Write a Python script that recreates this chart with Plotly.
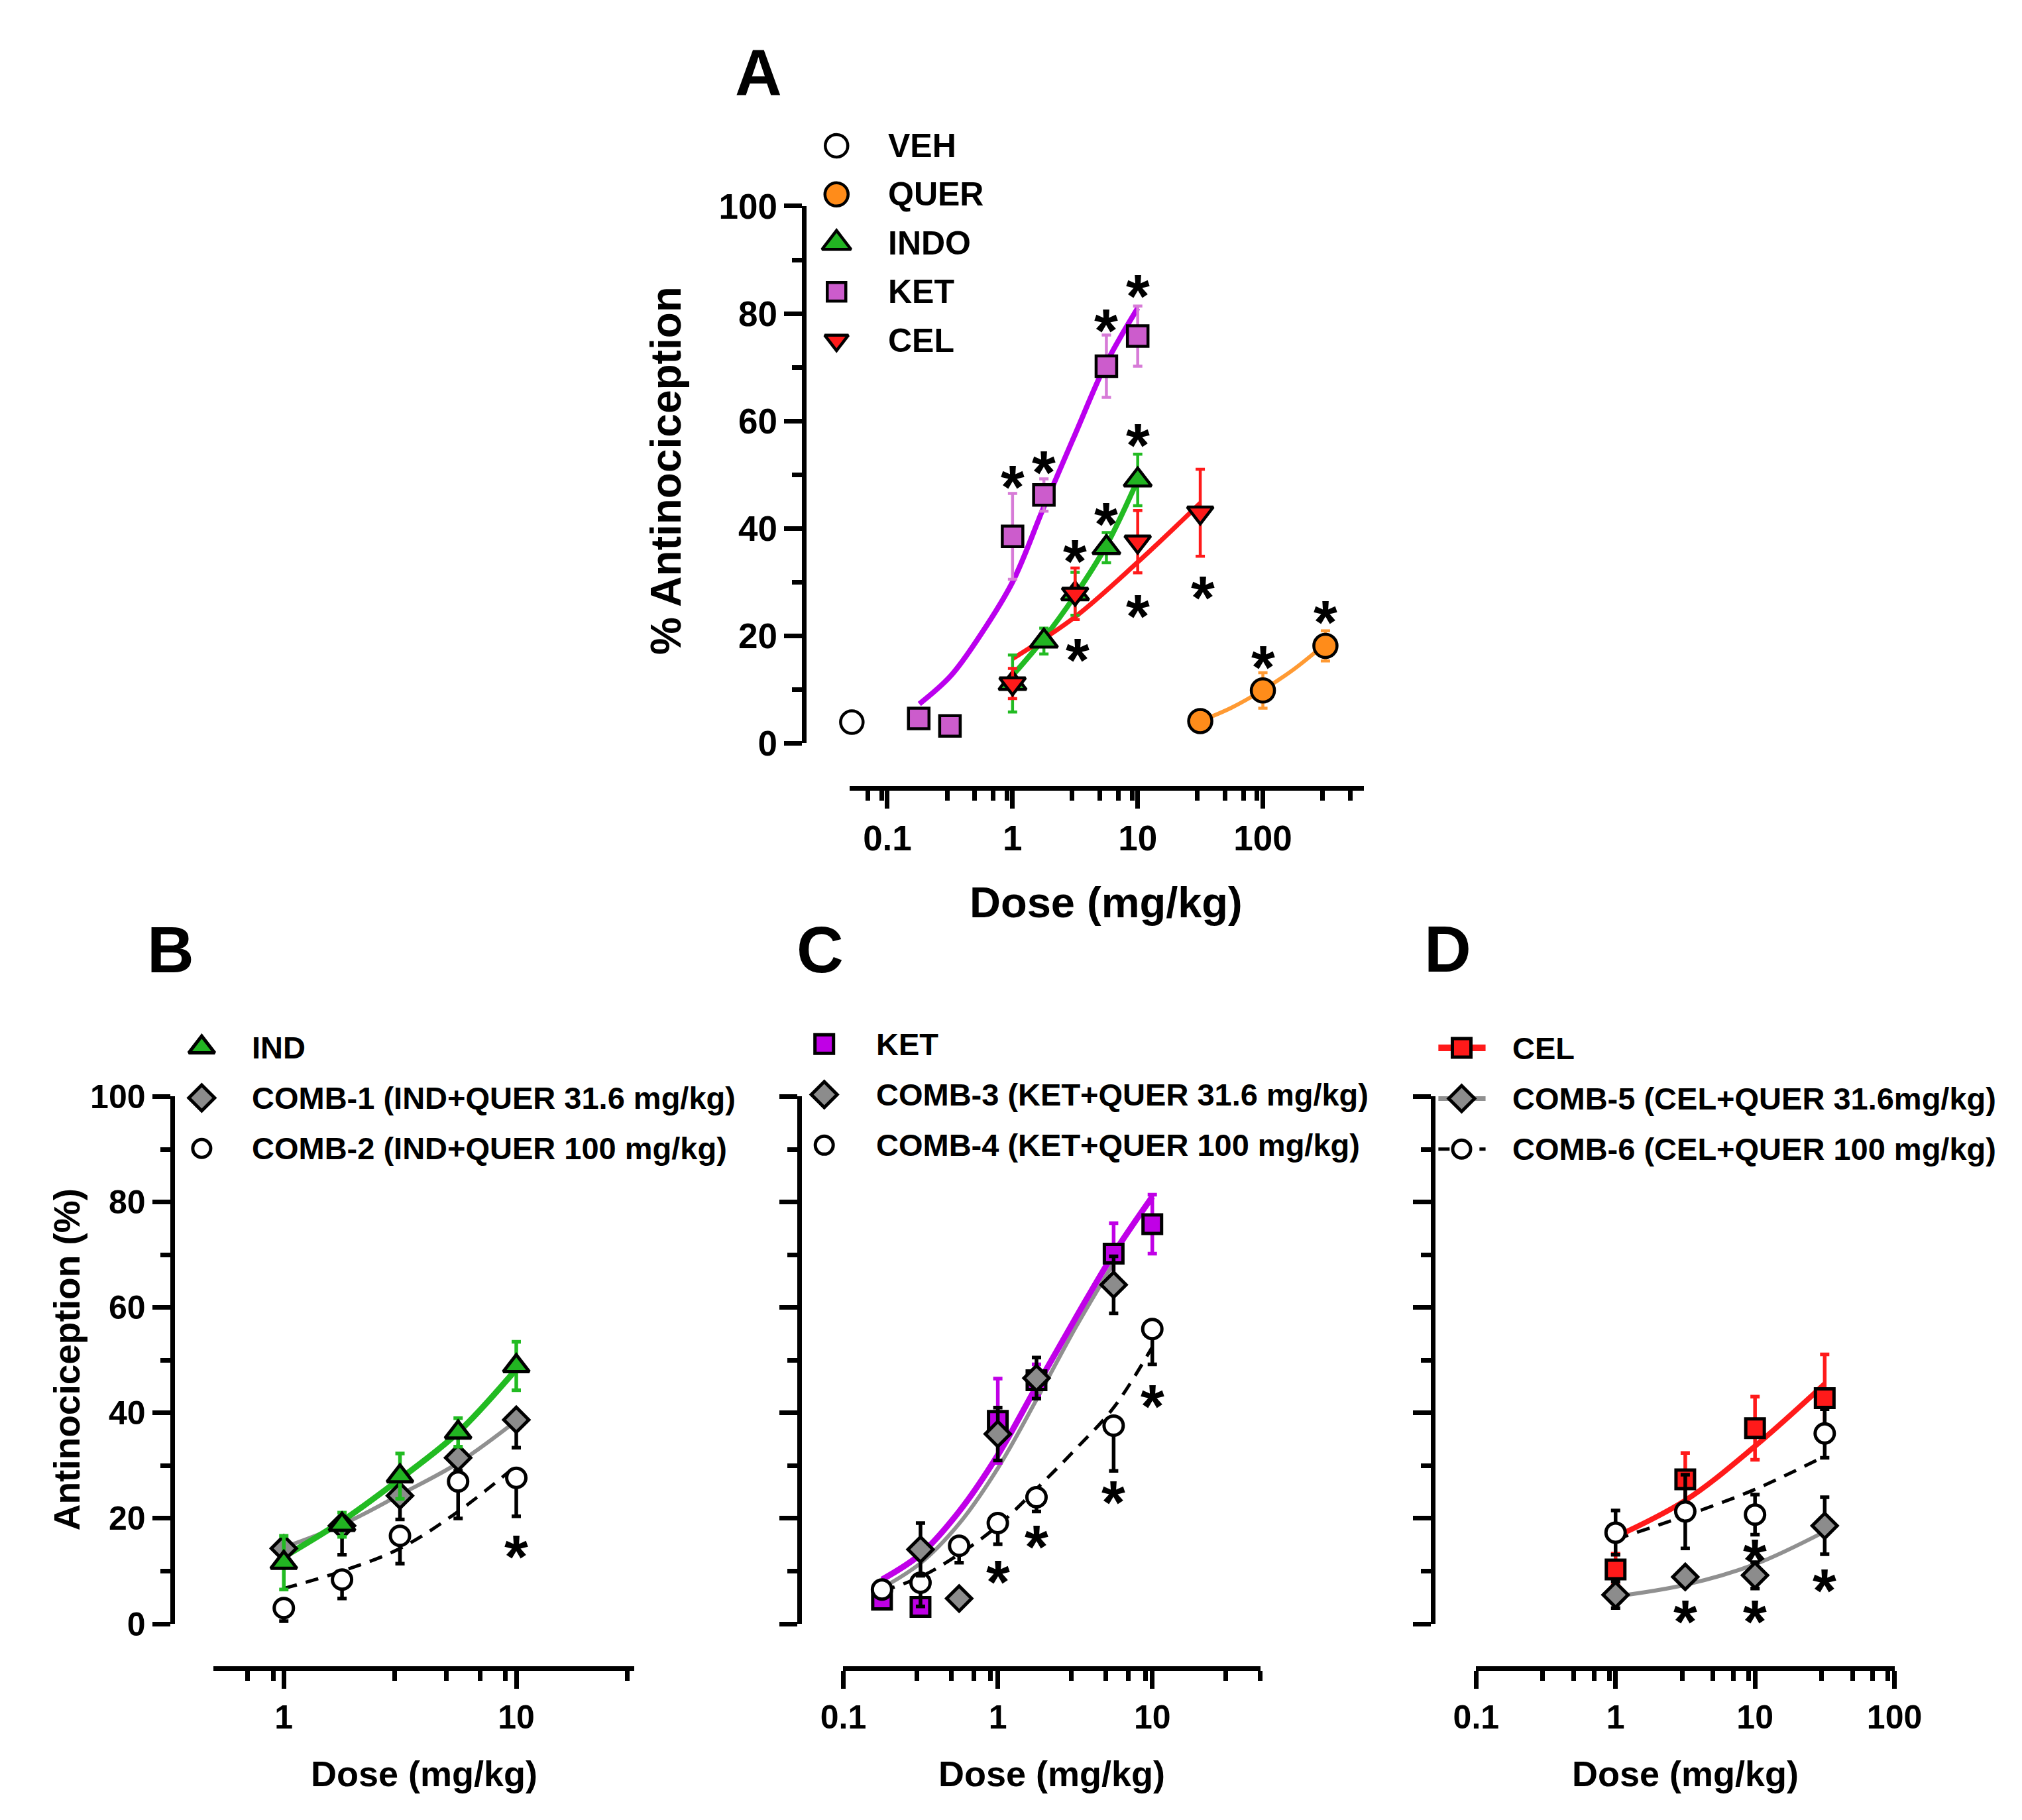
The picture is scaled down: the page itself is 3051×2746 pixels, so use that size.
import numpy as np
import plotly.graph_objects as go

W, H = 3051, 2746
FONT = "Liberation Sans, Arial, sans-serif"

# ---------------- panel A : single drugs ----------------
veh_x = [0.052]
veh_y = [3.9]
quer_x = [31.6, 100, 316]
quer_y = [4.1, 9.8, 18.1]
quer_err = [0.8, 3.3, 2.8]
indo_x = [1, 1.78, 3.16, 5.62, 10]
indo_y = [11.1, 19.0, 27.8, 36.4, 49.0]
indo_err = [5.3, 2.4, 4.0, 2.8, 4.8]
ket_x = [0.178, 0.316, 1, 1.78, 5.62, 10]
ket_y = [4.6, 3.2, 38.5, 46.2, 70.2, 75.8]
ket_err = [0.8, 0.6, 8.0, 3.0, 5.8, 5.6]
cel_x = [1, 3.16, 10, 31.6]
cel_y = [11.1, 27.8, 37.5, 42.9]
cel_err = [2.8, 4.8, 5.8, 8.1]

# fitted curves
ket_fit_x = [0.18, 0.32, 0.56, 1, 1.78, 3.16, 5.62, 10]
ket_fit_y = [7.3, 12.5, 20.3, 30, 44, 57.5, 70.8, 81]
indo_fit_x = [1, 1.78, 3.16, 5.62, 10]
indo_fit_y = [12.6, 19.5, 27.5, 36.8, 49]
cel_fit_x = [1, 3.16, 10, 31.6]
cel_fit_y = [15.7, 23.5, 33.7, 44.7]
quer_fit_x = [31.6, 56.2, 100, 178, 316]
quer_fit_y = [4.1, 6.6, 9.9, 13.8, 18.5]

ast_a_x = [1, 1.78, 5.62, 10, 3.16, 5.62, 10, 3.3, 10, 33, 100, 316]
ast_a_y = [50.3, 53.0, 79.4, 85.8, 36.4, 43.4, 58.0, 18.1, 26.2, 29.6, 16.7, 25.1]

# ---------------- panel B : indomethacin ----------------
ind_x = [1, 1.78, 3.16, 5.62, 10]
ind_y = [11.6, 18.8, 28.0, 36.3, 48.9]
ind_err = [5.1, 2.3, 4.3, 2.7, 4.6]
comb1_y = [14.3, 18.6, 24.3, 31.5, 38.7]
comb1_err = [1.5, 5.5, 4.5, 2.5, 5.3]
comb2_y = [3.0, 8.4, 16.7, 27.0, 27.7]
comb2_err = [2.5, 3.6, 5.3, 7.0, 7.3]
ind_fit_y = [12.7, 19.5, 27.5, 36.3, 48.3]
comb1_fit_y = [14.5, 18.8, 24.5, 30.5, 38.5]
comb2_fit_y = [6.7, 10.0, 14.3, 21.3, 30.0]
ast_b_x = [10]
ast_b_y = [15.4]

# ---------------- panel C : ketorolac ----------------
comb3_x = [0.316, 0.562, 1, 1.78, 5.62]
comb3_y = [14.1, 4.8, 36.0, 46.6, 64.3]
comb3_err = [5.0, 0.8, 5.0, 3.9, 5.4]
comb4_x = [0.178, 0.316, 0.562, 1, 1.78, 5.62, 10]
comb4_y = [6.5, 7.8, 14.8, 19.1, 24.0, 37.6, 55.9]
comb4_err = [0.8, 4.5, 3.2, 4.0, 2.7, 8.6, 6.7]
fit_c_x = [0.178, 0.316, 0.562, 1, 1.78, 3.16, 5.62, 10]
ketc_fit_y = [8.4, 13.2, 21.3, 32, 45, 57.8, 70.2, 81]
comb3_fit_y = [6.8, 11.5, 19, 29.5, 42.5, 56, 68.4]
comb4_fit_y = [6.2, 8.9, 13.2, 18.6, 25.6, 33, 41, 52.5]
ast_c_x = [1, 1.78, 5.62, 10]
ast_c_y = [10.5, 17.2, 25.6, 43.9]

# ---------------- panel D : celecoxib ----------------
celd_y = [10.3, 27.4, 37.1, 42.8]
celd_err = [3.0, 5.0, 6.0, 8.3]
comb5_y = [5.5, 8.9, 9.2, 18.6]
comb5_err = [2.5, 1.0, 2.5, 5.4]
comb6_y = [17.3, 21.3, 20.7, 36.1]
comb6_err = [4.2, 7.0, 3.8, 4.6]
celd_fit_y = [16.5, 23.4, 33.7, 45.5]
comb5_fit_y = [5.2, 7.4, 11.3, 17.5]
comb6_fit_y = [16.0, 20.5, 25.5, 31.8]
ast_d_x = [3.16, 10, 10, 31.6]
ast_d_y = [3.0, 3.0, 14.6, 8.9]

legend_a = ["VEH", "QUER", "INDO", "KET", "CEL"]
legend_b = ["IND", "COMB-1 (IND+QUER 31.6 mg/kg)", "COMB-2 (IND+QUER 100 mg/kg)"]
legend_c = ["KET", "COMB-3 (KET+QUER 31.6 mg/kg)", "COMB-4 (KET+QUER 100 mg/kg)"]
legend_d = ["CEL", "COMB-5 (CEL+QUER 31.6mg/kg)", "COMB-6 (CEL+QUER 100 mg/kg)"]

y_major = [0, 20, 40, 60, 80, 100]
y_minor = [10, 30, 50, 70, 90]

# ---------------- styles ----------------
OUT = dict(color="black", width=4.5)
OUT_B = dict(color="black", width=5)
GREEN, RED, ORANGE, GRAY = "#22B422", "#FF1A1A", "#FF8C1A", "#8C8C8C"
m_veh = dict(symbol="circle", size=34, color="white", line=OUT)
m_quer = dict(symbol="circle", size=35, color=ORANGE, line=OUT)
m_indo = dict(symbol="triangle-up", size=36, color=GREEN, line=OUT)
m_keta = dict(symbol="square", size=31, color="#CC5CCC", line=OUT)
m_cel = dict(symbol="triangle-down", size=34, color=RED, line=OUT)
m_ind = dict(symbol="triangle-up", size=34, color=GREEN, line=OUT_B)
m_diam = dict(symbol="diamond", size=29, color=GRAY, line=OUT_B)
m_open = dict(symbol="circle", size=29, color="white", line=OUT_B)
m_ketc = dict(symbol="square", size=28, color="#C000E6", line=OUT_B)
m_celd = dict(symbol="square", size=28, color=RED, line=OUT_B)

PANELS = [
    dict(x0=1271, x1=2067, ytop=280, ybot=1108, xline=1177, yline=1201,
         xr=(0.05, 640), major=[0.1, 1, 10, 100],
         minor=[0.07, 0.09, 0.3, 0.5, 0.7, 0.9, 3, 5, 7, 9, 30, 50, 70, 90, 300, 500],
         ylab=True, fs=53),
    dict(x0=287, x1=938, ytop=1653, ybot=2466, xline=2534, yline=223,
         xr=(0.5, 32), major=[1, 10], minor=[0.7, 0.9, 3, 5, 7, 9, 30],
         ylab=True, fs=50),
    dict(x0=1261, x1=1907, ytop=1653, ybot=2466, xline=2534, yline=1193,
         xr=(0.1, 50), major=[0.1, 1, 10], minor=[0.3, 0.5, 0.7, 0.9, 3, 5, 7, 9, 30, 50],
         ylab=False, fs=50),
    dict(x0=2240, x1=2888, ytop=1653, ybot=2466, xline=2534, yline=2173,
         xr=(0.1, 100), major=[0.1, 1, 10, 100],
         minor=[0.3, 0.5, 0.7, 0.9, 3, 5, 7, 9, 30, 50, 70, 90],
         ylab=False, fs=50),
]


def px(v):
    return v / W


def py(v):
    return 1 - v / H


def ids(i):
    return ("x" if i == 1 else f"x{i}", "y" if i == 1 else f"y{i}")


fig = go.Figure()


def fit(i, x, y, color, width, dash="solid"):
    xa, ya = ids(i)
    fig.add_trace(go.Scatter(x=x, y=y, xaxis=xa, yaxis=ya, mode="lines",
                             line=dict(color=color, width=width, dash=dash, shape="spline"),
                             cliponaxis=False, showlegend=False, hoverinfo="skip"))


def points(i, x, y, marker, err=None, ecolor="black", down_only=False):
    xa, ya = ids(i)
    ey = None
    if err is not None:
        thick = 4.5 if i == 1 else 5.5
        ey = dict(type="data", symmetric=False, array=[0] * len(err) if down_only else err,
                  arrayminus=err, color=ecolor, thickness=thick, width=7)
    fig.add_trace(go.Scatter(x=x, y=y, xaxis=xa, yaxis=ya, mode="markers",
                             marker=marker, error_y=ey, cliponaxis=False, showlegend=False))


DASH = "20px,14px"

# panel A
fit(1, ket_fit_x, ket_fit_y, "#BB00EE", 8)
fit(1, indo_fit_x, indo_fit_y, "#22BB22", 8)
fit(1, cel_fit_x, cel_fit_y, RED, 7)
fit(1, quer_fit_x, quer_fit_y, "#FF9A33", 6)
points(1, veh_x, veh_y, m_veh)
points(1, quer_x, quer_y, m_quer, quer_err, "#FF9A33")
points(1, ket_x, ket_y, m_keta, ket_err, "#D77BD7")
points(1, indo_x, indo_y, m_indo, indo_err, "#22BB22")
points(1, cel_x, cel_y, m_cel, cel_err, RED)

# panel B
fit(2, ind_x, comb1_fit_y, "#909090", 6)
fit(2, ind_x, comb2_fit_y, "black", 5, DASH)
fit(2, ind_x, ind_fit_y, "#22BB22", 9)
points(2, ind_x, comb2_y, m_open, comb2_err, down_only=True)
points(2, ind_x, comb1_y, m_diam, comb1_err, down_only=True)
points(2, ind_x, ind_y, m_ind, ind_err, "#22BB22")

# panel C
fit(3, fit_c_x[:7], comb3_fit_y, "#909090", 6)
fit(3, fit_c_x, comb4_fit_y, "black", 5, DASH)
fit(3, fit_c_x, ketc_fit_y, "#C000E8", 9)
points(3, ket_x, ket_y, m_ketc, ket_err, "#C000E6")
points(3, comb4_x, comb4_y, m_open, comb4_err, down_only=True)
points(3, comb3_x, comb3_y, m_diam, comb3_err)

# panel D
fit(4, cel_x, comb5_fit_y, "#909090", 6)
fit(4, cel_x, comb6_fit_y, "black", 5, DASH)
fit(4, cel_x, celd_fit_y, RED, 8)
points(4, cel_x, celd_y, m_celd, celd_err, RED)
points(4, cel_x, comb5_y, m_diam, comb5_err)
points(4, cel_x, comb6_y, m_open, comb6_err)

annotations = []
for i, (ax_, ay_) in enumerate([(ast_a_x, ast_a_y), (ast_b_x, ast_b_y),
                                (ast_c_x, ast_c_y), (ast_d_x, ast_d_y)], start=1):
    xa, ya = ids(i)
    for xv, yv in zip(ax_, ay_):
        annotations.append(dict(x=float(np.log10(xv)), y=yv, xref=xa, yref=ya, text="*",
                                xanchor="center", yanchor="middle", showarrow=False, yshift=-21,
                                font=dict(family=FONT, size=92, color="black", weight="bold")))

# axes
layout_axes = {}
for i, p in enumerate(PANELS, start=1):
    xk = "xaxis" if i == 1 else f"xaxis{i}"
    yk = "yaxis" if i == 1 else f"yaxis{i}"
    lo, hi = np.log10(p["xr"][0]) - 0.002, np.log10(p["xr"][1]) + 0.002
    layout_axes[xk] = dict(
        type="log", range=[lo, hi], domain=[px(p["x0"]), px(p["x1"])],
        anchor="free", position=py(p["xline"]), showline=True, linewidth=7, linecolor="black",
        ticks="outside", ticklen=27, tickwidth=7, tickcolor="black",
        tickvals=p["major"], ticktext=[f"{v:g}" for v in p["major"]],
        tickfont=dict(family=FONT, size=p["fs"], color="black", weight="bold"),
        minor=dict(tickvals=p["minor"], ticks="outside", ticklen=15, tickwidth=7,
                   tickcolor="black", showgrid=False),
        showgrid=False, zeroline=False, fixedrange=True)
    layout_axes[yk] = dict(
        range=[0, 100], domain=[py(p["ybot"]), py(p["ytop"])],
        anchor="free", position=px(p["yline"]), showline=True, linewidth=7, linecolor="black",
        ticks="outside", ticklen=27, tickwidth=7, tickcolor="black",
        tickvals=y_major, showticklabels=p["ylab"],
        tickfont=dict(family=FONT, size=p["fs"], color="black", weight="bold"),
        minor=dict(tickvals=y_minor, ticks="outside", ticklen=15, tickwidth=7,
                   tickcolor="black", showgrid=False),
        showgrid=False, zeroline=False, fixedrange=True)

# overlay axes in pixel units, used for the hand-made legends
layout_axes["xaxis5"] = dict(domain=[0, 1], range=[0, W], visible=False, anchor="y5", fixedrange=True)
layout_axes["yaxis5"] = dict(domain=[0, 1], range=[H, 0], visible=False, anchor="x5", fixedrange=True)


def legend(labels, markers, mx, tx, y0, step, fs, lines=None):
    for k, (lab, mk) in enumerate(zip(labels, markers)):
        yy = y0 + k * step
        if lines is not None:
            lc, lw, ld = lines[k]
            fig.add_trace(go.Scatter(x=[mx - 36, mx + 37], y=[yy, yy], xaxis="x5", yaxis="y5",
                                     mode="lines", line=dict(color=lc, width=lw, dash=ld),
                                     showlegend=False, hoverinfo="skip"))
        fig.add_trace(go.Scatter(x=[mx], y=[yy], xaxis="x5", yaxis="y5", mode="markers",
                                 marker=mk, showlegend=False, hoverinfo="skip"))
        annotations.append(dict(x=px(tx), y=py(yy), xref="paper", yref="paper", text=lab,
                                xanchor="left", yanchor="middle", showarrow=False,
                                font=dict(family=FONT, size=fs, color="black", weight="bold")))


legend(legend_a, [m_veh, m_quer, dict(m_indo, size=38), dict(m_keta, size=28), dict(m_cel, size=31)],
       1251, 1329, 187, 75, 50)
legend(legend_b, [m_ind, dict(m_diam, size=30), dict(m_open, size=27)], 269, 344, 1577, 78, 47)
legend(legend_c, [m_ketc, dict(m_diam, size=30), dict(m_open, size=27)], 1232, 1310, 1572, 78, 47)
legend(legend_d, [m_celd, dict(m_diam, size=30), dict(m_open, size=27)], 2218, 2294, 1578, 78, 47,
       lines=[(RED, 10, "solid"), ("#909090", 7, "solid"), ("black", 5, "17px,14px")])

# panel letters and axis titles
for letter, cx, cy in [("A", 1130, 74), ("B", 221, 1427), ("C", 1226, 1427), ("D", 2196, 1426)]:
    annotations.append(dict(x=px(cx), y=py(cy), xref="paper", yref="paper", text=letter,
                            xanchor="center", yanchor="middle", showarrow=False,
                            font=dict(family=FONT, size=98, color="black", weight="bold")))

titles = [("% Antinociception", 987, 688, -90, 64), ("Dose (mg/kg)", 1668, 1354, 0, 65),
          ("Antinociception (%)", 60, 2059, -90, 55), ("Dose (mg/kg)", 613, 2697, 0, 54),
          ("Dose (mg/kg)", 1584, 2697, 0, 54), ("Dose (mg/kg)", 2564, 2697, 0, 54)]
for txt, cx, cy, ang, fs in titles:
    annotations.append(dict(x=px(cx), y=py(cy), xref="paper", yref="paper", text=txt, textangle=ang,
                            xanchor="center", yanchor="middle", showarrow=False,
                            font=dict(family=FONT, size=fs, color="black", weight="bold")))

fig.update_layout(
    width=W, height=H, autosize=False,
    margin=dict(l=0, r=0, t=0, b=0),
    paper_bgcolor="white", plot_bgcolor="rgba(0,0,0,0)",
    showlegend=False, annotations=annotations,
    **layout_axes,
)

fig.write_html("out.html")
